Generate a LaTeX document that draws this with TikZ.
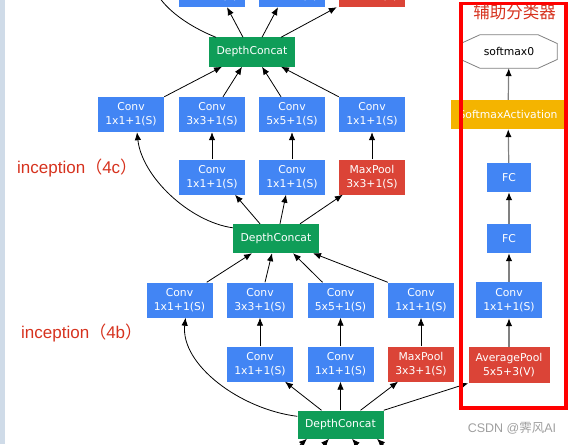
\documentclass[tikz,border=0pt]{standalone}
\usepackage{fontspec}
\usepackage{xcolor}
\usepackage{tikz}
\usetikzlibrary{arrows.meta,calc}
\newfontfamily\boxfont{DejaVu Sans}
\newfontfamily\labfont{Liberation Sans}
\newfontfamily\cjk{Noto Sans CJK SC}
\definecolor{gblue}{RGB}{66,133,244}
\definecolor{ggreen}{RGB}{15,157,88}
\definecolor{gred}{RGB}{219,68,55}
\definecolor{gyellow}{RGB}{244,180,0}
\definecolor{labred}{RGB}{214,50,30}
\definecolor{stripbg}{RGB}{207,219,232}

\begin{document}
\begin{tikzpicture}[x=1pt,y=-1pt,
  layer/.style={minimum width=66pt,minimum height=35pt,inner sep=0pt,align=center,
                text=white,font=\boxfont\fontsize{10.8}{14}\selectfont},
  conv/.style={layer,fill=gblue},
  pool/.style={layer,fill=gred},
  concat/.style={layer,fill=ggreen,minimum width=86pt,minimum height=29pt},
  edge/.style={-{Latex[length=8pt,width=6.5pt]},line width=0.8pt},
  auxedge/.style={-{Latex[length=8pt,width=6.5pt,color=black]},line width=1.2pt,draw=gray},
  incep/.style={anchor=west,text=labred,inner sep=0pt,font=\labfont\fontsize{17}{20}\selectfont}
]
\useasboundingbox (0,0) rectangle (572,444);
\clip (0,0) rectangle (572,444);
\fill[stripbg] (0,0) rectangle (5,444);

\node[conv] (t1) at (212,-10.5) {Conv\\1x1+1(S)};
\node[conv] (t2) at (292,-10.5) {Conv\\1x1+1(S)};
\node[pool] (t3) at (372,-10.5) {MaxPool\\3x3+1(S)};
\coordinate (up4d) at (150,-25);

\node[concat] (dc3) at (252,52) {DepthConcat};
\node[conv] (a1) at (131,114.5) {Conv\\1x1+1(S)};
\node[conv] (a2) at (212,114.5) {Conv\\3x3+1(S)};
\node[conv] (a3) at (292,114.5) {Conv\\5x5+1(S)};
\node[conv] (a4) at (372,114.5) {Conv\\1x1+1(S)};
\node[conv] (b1) at (212,177) {Conv\\1x1+1(S)};
\node[conv] (b2) at (292,177) {Conv\\1x1+1(S)};
\node[pool] (b3) at (372,177) {MaxPool\\3x3+1(S)};
\node[concat] (dc2) at (276,238.5) {DepthConcat};
\node[conv] (c1) at (179.5,300) {Conv\\1x1+1(S)};
\node[conv] (c2) at (260,300) {Conv\\3x3+1(S)};
\node[conv] (c3) at (340.5,300) {Conv\\5x5+1(S)};
\node[conv] (c4) at (421,300) {Conv\\1x1+1(S)};
\node[conv] (d1) at (260,364) {Conv\\1x1+1(S)};
\node[conv] (d2) at (340.5,364) {Conv\\1x1+1(S)};
\node[pool] (d3) at (421,364) {MaxPool\\3x3+1(S)};
\node[concat,minimum height=28pt] (dc1) at (340.5,424.5) {DepthConcat};
\coordinate (in1) at (282,462);
\coordinate (in2) at (308,462);
\coordinate (in3) at (372,462);
\coordinate (in4) at (400,462);

\node[incep] (l4c) at (17,168) {inception{\cjk （}4c{\cjk ）}};
\node[incep] (l4b) at (21,333) {inception{\cjk （}4b{\cjk ）}};

\node[minimum width=96pt,minimum height=33pt,inner sep=0pt,font=\boxfont\fontsize{10.8}{14}\selectfont] (sm) at (509,51.5) {softmax0};
\draw[gray,line width=0.8pt] ([xshift=19pt]sm.north west) -- ([xshift=-19pt]sm.north east)
  -- ([yshift=8pt]sm.east) -- ([yshift=-8pt]sm.east) -- ([xshift=-19pt]sm.south east)
  -- ([xshift=19pt]sm.south west) -- ([yshift=-8pt]sm.west) -- ([yshift=8pt]sm.west) -- cycle;
\node[layer,fill=gyellow,minimum width=114pt,minimum height=29pt] (act) at (508,114.5) {SoftmaxActivation};
\node[conv,minimum width=44pt,minimum height=29pt] (fc1) at (509,177.5) {FC};
\node[conv,minimum width=44pt,minimum height=29pt] (fc2) at (509,238.5) {FC};
\node[conv,minimum height=36pt] (aconv) at (509,300) {Conv\\1x1+1(S)};
\node[pool,minimum width=81pt,minimum height=36pt] (apool) at (509,365) {AveragePool\\5x5+3(V)};

\draw[edge] ([xshift=-9pt]dc3.north) -- ([xshift=15pt]t1.south);
\draw[edge] ([xshift=10pt]dc3.north) -- ([xshift=-14pt]t2.south);
\draw[edge] ([xshift=29pt]dc3.north) -- ([xshift=-2pt]t3.south west);
\draw[edge] ([xshift=-36pt]dc3.north) .. controls +(-30,-12) and +(8,30) .. (up4d);
\draw[edge] (a1.north east) -- ([xshift=-30pt]dc3.south);
\draw[edge] ([xshift=11pt]a2.north) -- ([xshift=-10pt]dc3.south);
\draw[edge] ([xshift=-11pt]a3.north) -- ([xshift=10pt]dc3.south);
\draw[edge] (a4.north west) -- ([xshift=29pt]dc3.south);
\foreach \lo/\hi in {b1/a2,b2/a3,b3/a4,d1/c2,d2/c3,d3/c4}
  \draw[edge] (\lo.north) -- (\hi.south);
\draw[edge] ([xshift=-16pt]dc2.north) -- ([xshift=23pt]b1.south);
\draw[edge] ([xshift=4pt]dc2.north) -- ([xshift=-6pt]b2.south);
\draw[edge] ([xshift=24pt]dc2.north) -- ([xshift=4pt]b3.south west);
\draw[edge] ([yshift=-4pt]dc2.north west) .. controls +(-43,-6) and +(5,45) .. ([xshift=6pt]a1.south);
\draw[edge] ([xshift=-6pt]c1.north east) -- ([xshift=-24pt]dc2.south);
\draw[edge] ([xshift=5pt]c2.north) -- ([xshift=-4pt]dc2.south);
\draw[edge] ([xshift=-18pt]c3.north) -- ([xshift=17pt]dc2.south);
\draw[edge] (c4.north west) -- ([xshift=37pt]dc2.south);
\draw[edge] ([xshift=-19pt]dc1.north) -- ([xshift=25pt]d1.south);
\draw[edge] (dc1.north) -- (d2.south);
\draw[edge] ([xshift=20pt]dc1.north) -- ([xshift=-23pt]d3.south);
\draw[edge] ([yshift=-6pt]dc1.north west) .. controls +(-57,-7) and +(-5,47) .. ([xshift=6pt]c1.south);
\draw[edge] (dc1.north east) -- (apool.south west);
\draw[edge] (in1) -- ([xshift=-33.5pt]dc1.south);
\draw[edge] (in2) -- ([xshift=-11.5pt]dc1.south);
\draw[edge] (in3) -- ([xshift=11.5pt]dc1.south);
\draw[edge] (in4) -- ([xshift=36.5pt]dc1.south);

\draw[auxedge] (apool) -- (aconv);
\draw[auxedge] (aconv) -- (fc2);
\draw[auxedge] (fc2) -- (fc1);
\draw[auxedge] (fc1) -- (act);
\draw[auxedge] (act) -- (sm);

\draw[red,line width=3.5pt] (461,3.7) rectangle (566,408);
\node[text=labred,inner sep=0pt,font=\cjk\fontsize{16.5}{18}\selectfont] (auxtitle) at (514.5,12.5) {辅助分类器};
\node[text=gray!75,inner sep=0pt,font=\labfont\fontsize{12.5}{14}\selectfont] (mark) at (512,428) {CSDN @{\cjk 霁风}AI};
\end{tikzpicture}
\end{document}
